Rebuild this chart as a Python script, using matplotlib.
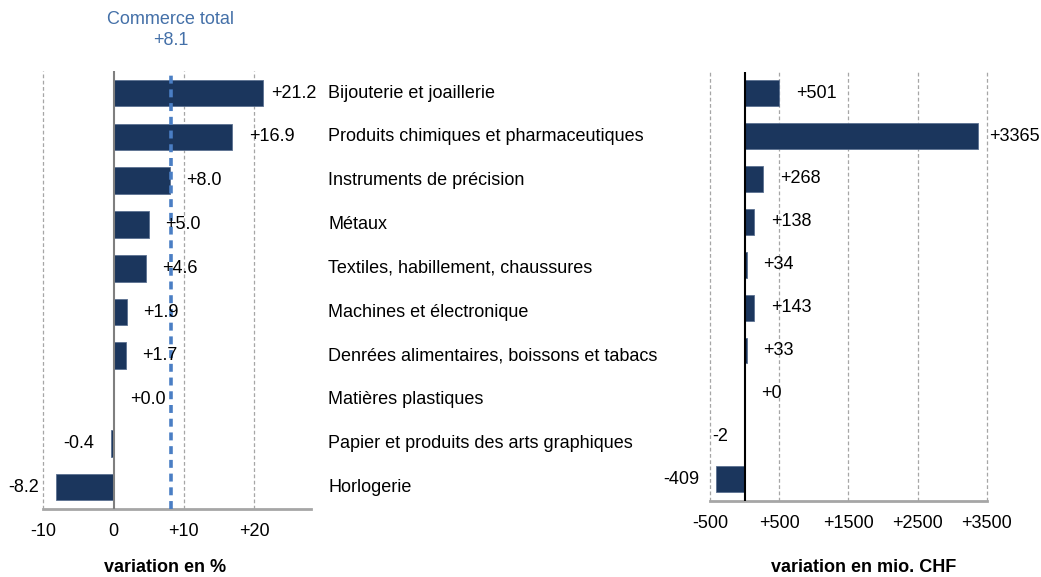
import numpy as np
import matplotlib
matplotlib.use('Agg')
import matplotlib.pyplot as plt

plt.rcParams['font.family'] = ['Liberation Sans', 'DejaVu Sans']

# Data
categories = ['Bijouterie et joaillerie', 'Produits chimiques et pharmaceutiques',
              'Instruments de précision', 'Métaux', 'Textiles, habillement, chaussures',
              'Machines et électronique', 'Denrées alimentaires, boissons et tabacs',
              'Matières plastiques', 'Papier et produits des arts graphiques', 'Horlogerie']
pct = [21.2, 16.9, 8.0, 5.0, 4.6, 1.9, 1.7, 0.0, -0.4, -8.2]
mio = [501, 3365, 268, 138, 34, 143, 33, 0, -2, -409]
total_pct = 8.1
pct_ticks = [-10, 0, 10, 20]
pct_ticklabels = ['-10', '0', '+10', '+20']
mio_ticks = [-500, 500, 1500, 2500, 3500]
mio_ticklabels = ['-500', '+500', '+1500', '+2500', '+3500']

bar_col = '#1b365d'
grid_col = '#a6a6a6'
blue = '#4a7ec4'
fs = 13

fig = plt.figure(figsize=(10.41, 5.77), dpi=100)
ax1 = fig.add_axes([0.0416, 0.1179, 0.2572, 0.7586])
ax2 = fig.add_axes([0.682, 0.1322, 0.2661, 0.7435])

y = np.arange(len(categories))

def fmt(v, dec):
    s = f'{v:.{dec}f}'
    if v >= 0:
        s = '+' + s
    return s

def style(ax, ticks, labels, zero_col):
    for s in ['top', 'right', 'left']:
        ax.spines[s].set_visible(False)
    ax.spines['bottom'].set_color(grid_col)
    ax.spines['bottom'].set_linewidth(2)
    ax.set_xticks(ticks)
    ax.set_xticklabels(labels, fontsize=fs)
    ax.tick_params(axis='x', length=0, pad=10)
    ax.set_yticks([])
    for t in ticks:
        if t != 0:
            ax.axvline(t, color=grid_col, ls=(0, (3, 2)), lw=0.9, zorder=0, clip_on=False)
    ax.axvline(0, color=zero_col, lw=1.5, zorder=3)
    ax.set_ylim(len(categories) - 0.5, -0.5)

# left panel: variation en %
ax1.barh(y, pct, height=0.61, color=bar_col, edgecolor='#5b7191', lw=0.6, zorder=2)
ax1.set_xlim(-10, 28.1)
style(ax1, pct_ticks, pct_ticklabels, '#7f7f7f')
ax1.axvline(total_pct, color=blue, ls=(0, (2.2, 1.6)), lw=2.6, zorder=4)
for i, v in enumerate(pct):
    off = 12 if v >= 0 else -12
    if i == 0:
        off = 6
    ax1.annotate(fmt(v, 1), (v, i), xytext=(off, 0), textcoords='offset points',
                 ha='left' if v >= 0 else 'right', va='center', fontsize=fs, zorder=5)
ax1.text(total_pct, 1.094, 'Commerce total\n' + fmt(total_pct, 1), transform=ax1.get_xaxis_transform(),
         ha='center', va='center', color='#4470a8', fontsize=fs, linespacing=1.3)
ax1.set_xlabel('variation en %', fontsize=fs, fontweight='bold')
ax1.xaxis.set_label_coords(0.455, -0.114)

# category labels between panels
for i, c in enumerate(categories):
    ax1.annotate(c, (0, i), xycoords=('figure fraction', 'data'), xytext=(328, 0),
                 textcoords='offset pixels', ha='left', va='center', fontsize=fs)

# right panel: variation en mio. CHF
ax2.barh(y, mio, height=0.6, color=bar_col, edgecolor='#5b7191', lw=0.6, zorder=2)
ax2.set_xlim(-500, 3500)
style(ax2, mio_ticks, mio_ticklabels, 'black')
for i, v in enumerate(mio):
    off = 12 if v >= 0 else -12
    if i == 1:
        off = 8
    ax2.annotate(fmt(v, 0), (v, i), xytext=(off, 0), textcoords='offset points',
                 ha='left' if v >= 0 else 'right', va='center', fontsize=fs, zorder=5)
ax2.set_xlabel('variation en mio. CHF', fontsize=fs, fontweight='bold')
ax2.xaxis.set_label_coords(0.555, -0.136)

fig.savefig('out.png', dpi=100)
